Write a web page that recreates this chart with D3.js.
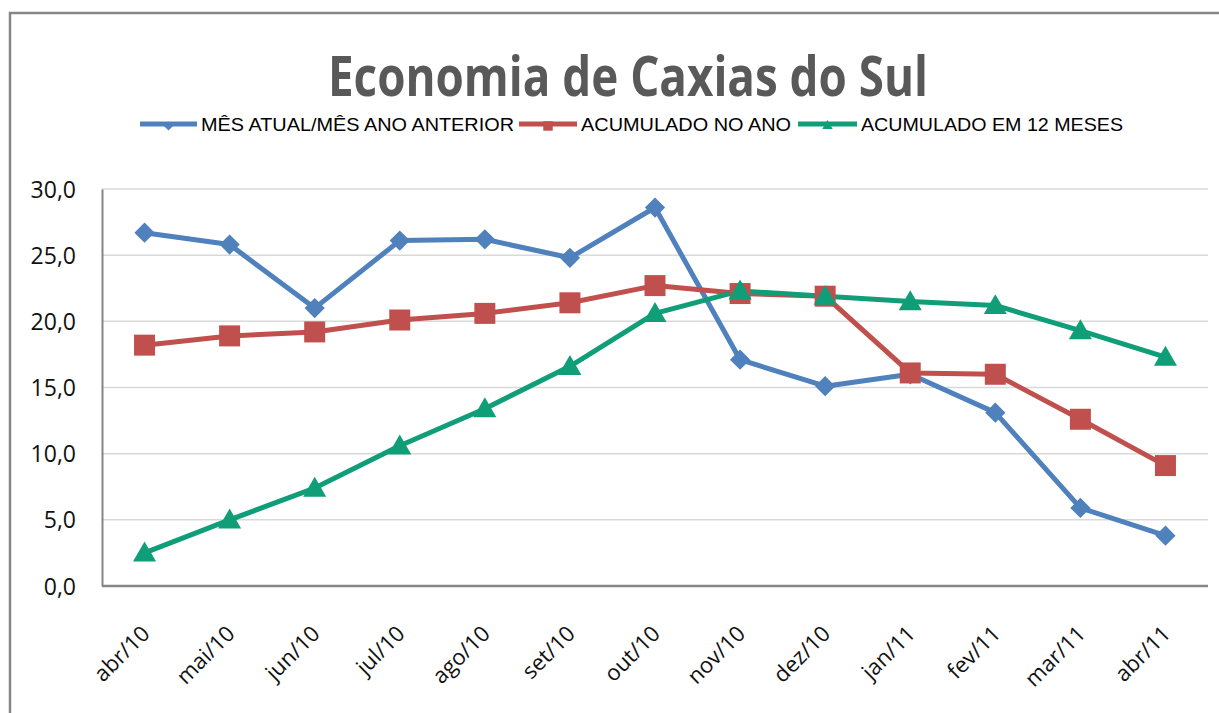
<!DOCTYPE html>
<html><head><meta charset="utf-8">
<script src="https://cdn.jsdelivr.net/npm/d3@7"></script>
<style>html,body{margin:0;padding:0;background:#fff;}svg{display:block;}</style>
</head><body><svg id="c" width="1219" height="713"></svg>
<script>
const categories = ["abr/10","mai/10","jun/10","jul/10","ago/10","set/10","out/10","nov/10","dez/10","jan/11","fev/11","mar/11","abr/11"];
const mesAtual = [26.7,25.8,21.0,26.1,26.2,24.8,28.6,17.1,15.1,16.0,13.1,5.9,3.8];
const acumAno = [18.2,18.9,19.2,20.1,20.6,21.4,22.7,22.1,21.9,16.1,16.0,12.6,9.1];
const acum12 = [2.5,5.0,7.4,10.6,13.4,16.6,20.6,22.3,21.9,21.5,21.2,19.3,17.3];
const seriesNames = ["MÊS ATUAL/MÊS ANO ANTERIOR","ACUMULADO NO ANO","ACUMULADO EM 12 MESES"];
const yTicks = [0,5,10,15,20,25,30];
const title = "Economia de Caxias do Sul";

const series = [
  {name: seriesNames[0], values: mesAtual, color: "#4F81BD", shape: "diamond"},
  {name: seriesNames[1], values: acumAno, color: "#C0504D", shape: "square"},
  {name: seriesNames[2], values: acum12, color: "#109E78", shape: "triangle"}
];

const svg = d3.select("#c");
const M = {left: 102, right: 1208, top: 189, bottom: 586};

// frame
svg.append("path").attr("d", "M10,713 L10,13 L1219,13")
  .attr("fill","none").attr("stroke","#868686").attr("stroke-width",2.5);

// title
svg.append("text").attr("x", 628).attr("y", 96).attr("text-anchor","middle")
  .attr("font-family","'Open Sans', sans-serif").attr("font-weight","bold")
  .attr("font-size", 56).attr("fill","#595959")
  .attr("textLength", 600).attr("lengthAdjust","spacingAndGlyphs").text(title);

const x = d3.scalePoint().domain(categories).range([M.left, M.right]).padding(0.5);
const y = d3.scaleLinear().domain([0,30]).range([M.bottom, M.top]);

// gridlines
svg.append("g").selectAll("line").data(yTicks.filter(d=>d>0)).join("line")
  .attr("x1", M.left).attr("x2", M.right).attr("y1", d=>y(d)).attr("y2", d=>y(d))
  .attr("stroke","#d9d9d9").attr("stroke-width",1.5);

// y axis
const yAxis = svg.append("g").attr("transform",`translate(${M.left},0)`)
  .call(d3.axisLeft(y).tickValues(yTicks).tickSize(0).tickPadding(26)
    .tickFormat(d => d3.format(".1f")(d).replace(".", ",")));
yAxis.select(".domain").attr("stroke","#868686").attr("stroke-width",2);
yAxis.selectAll("text").attr("font-family","'Open Sans', sans-serif").attr("font-size",23).attr("fill","#111")
  .attr("dy","0.35em");

// x axis
const xAxis = svg.append("g").attr("transform",`translate(0,${M.bottom})`)
  .call(d3.axisBottom(x).tickSize(0).tickFormat(d=>d));
xAxis.select(".domain").attr("stroke","#868686").attr("stroke-width",2.5)
  .attr("d", `M${M.left},0H${M.right}`);
xAxis.selectAll("text").attr("font-family","'Open Sans', sans-serif").attr("font-size",22).attr("fill","#111")
  .attr("text-anchor","end").attr("dy",null).attr("y",0)
  .attr("transform","translate(6,49) rotate(-45)");

function markerPath(shape, scale) {
  if (shape === "square") return d3.symbol(d3.symbolSquare, 441*scale*scale)();
  if (shape === "diamond") return d3.symbol(d3.symbolSquare, 205*scale*scale)();
  return d3.symbol(d3.symbolTriangle, 230*scale*scale)();
}

const line = d3.line().x((d,i)=>x(categories[i])).y(d=>y(d));
series.forEach(s => {
  svg.append("path").datum(s.values).attr("d", line).attr("fill","none")
    .attr("stroke", s.color).attr("stroke-width",5).attr("stroke-linejoin","round");
});
series.forEach(s => {
  svg.append("g").selectAll("path").data(s.values).join("path")
    .attr("d", markerPath(s.shape, 1))
    .attr("transform", (d,i)=>`translate(${x(categories[i])},${y(d) + (s.shape==="triangle"?2:0)})${s.shape==="diamond"?" rotate(45)":""}`)
    .attr("fill", s.color);
});

// legend
const legendItems = [
  {x0:140, x1:197, tx:201, tw:313},
  {x0:519, x1:577, tx:581, tw:210},
  {x0:798, x1:857, tx:861, tw:262}
];
const lg = svg.append("g");
series.forEach((s,i) => {
  const L = legendItems[i];
  const cy = 124;
  lg.append("line").attr("x1",L.x0).attr("x2",L.x1).attr("y1",cy).attr("y2",cy)
    .attr("stroke",s.color).attr("stroke-width",5);
  lg.append("path").attr("d", markerPath(s.shape, 0.45))
    .attr("transform",`translate(${(L.x0+L.x1)/2},${cy+2})${s.shape==="diamond"?" rotate(45)":""}`)
    .attr("fill",s.color);
  lg.append("text").attr("x",L.tx).attr("y",cy+7).attr("font-family","'Liberation Sans', sans-serif")
    .attr("font-size",18).attr("fill","#000").attr("textLength",L.tw).attr("lengthAdjust","spacingAndGlyphs")
    .text(s.name);
});
</script></body></html>
